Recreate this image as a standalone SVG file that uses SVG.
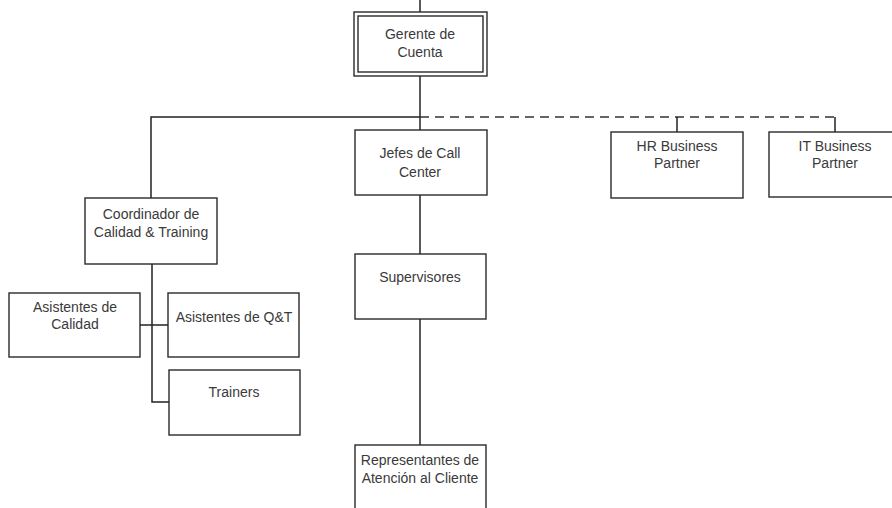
<svg xmlns="http://www.w3.org/2000/svg" width="892" height="508" viewBox="0 0 892 508">
<style>
.box{fill:#fff;stroke:#2a2a2a;stroke-width:1.4}
.ln{fill:none;stroke:#222;stroke-width:1.5}
.dash{fill:none;stroke:#333;stroke-width:1.5;stroke-dasharray:9 6}
text{font-family:"Liberation Sans",Arial,sans-serif;font-size:14px;fill:#3a3a3a;text-anchor:middle}
</style>
<rect width="892" height="508" fill="#fff"/>
<g id="connectors">
<line class="ln" x1="420" y1="0" x2="420" y2="12"/>
<line class="ln" x1="420" y1="76" x2="420" y2="130"/>
<polyline class="ln" points="151,198 151,117 420,117"/>
<line class="dash" x1="420" y1="117" x2="836" y2="117"/>
<line class="ln" x1="677" y1="117" x2="677" y2="132"/>
<line class="ln" x1="835" y1="117" x2="835" y2="132"/>
<line class="ln" x1="420" y1="195" x2="420" y2="254"/>
<line class="ln" x1="420" y1="319" x2="420" y2="445"/>
<polyline class="ln" points="152,264 152,402 169,402"/>
<line class="ln" x1="140" y1="325" x2="168" y2="325"/>
</g>
<g id="gerente">
<rect class="box" x="354" y="12" width="133" height="64"/>
<rect class="box" x="358" y="16" width="125" height="56"/>
<text x="420" y="39">Gerente de</text>
<text x="420" y="57">Cuenta</text>
</g>
<g id="jefes">
<rect class="box" x="355" y="130" width="132" height="65"/>
<text x="420" y="158">Jefes de Call</text>
<text x="420" y="177">Center</text>
</g>
<g id="hr">
<rect class="box" x="611" y="132" width="132" height="66"/>
<text x="677" y="151">HR Business</text>
<text x="677" y="168">Partner</text>
</g>
<g id="it">
<rect class="box" x="769" y="132" width="132" height="65"/>
<text x="835" y="151">IT Business</text>
<text x="835" y="168">Partner</text>
</g>
<g id="coordinador">
<rect class="box" x="85" y="198" width="132" height="66"/>
<text x="151" y="219">Coordinador de</text>
<text x="151" y="237">Calidad &amp; Training</text>
</g>
<g id="asistentes-calidad">
<rect class="box" x="9" y="293" width="131" height="64"/>
<text x="75" y="312">Asistentes de</text>
<text x="75" y="329">Calidad</text>
</g>
<g id="asistentes-qt">
<rect class="box" x="168" y="293" width="131" height="64"/>
<text x="234" y="322">Asistentes de Q&amp;T</text>
</g>
<g id="trainers">
<rect class="box" x="169" y="370" width="131" height="65"/>
<text x="234" y="397">Trainers</text>
</g>
<g id="supervisores">
<rect class="box" x="355" y="254" width="131" height="65"/>
<text x="420" y="282">Supervisores</text>
</g>
<g id="representantes">
<rect class="box" x="355" y="445" width="131" height="70"/>
<text x="420" y="465">Representantes de</text>
<text x="420" y="483">Atención al Cliente</text>
</g>
</svg>
